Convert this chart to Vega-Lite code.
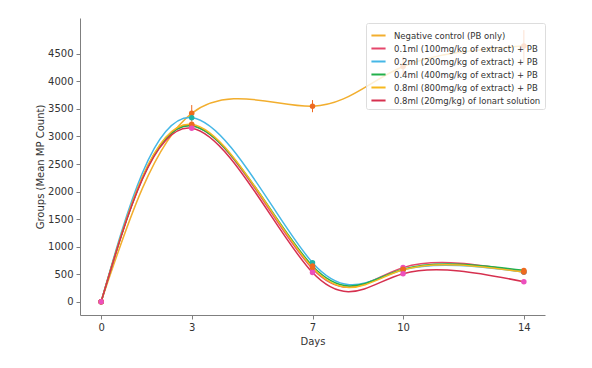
{
  "$schema": "https://vega.github.io/schema/vega-lite/v6.json",
  "width": 465,
  "height": 297,
  "autosize": "none",
  "padding": {"left": 80, "top": 18, "right": 47, "bottom": 53},
  "background": "white",
  "config": {
    "view": {"stroke": null},
    "font": "DejaVu Sans",
    "axis": {"grid": false, "domainColor": "#7f7f7f", "tickColor": "#7f7f7f", "labelColor": "#333333", "titleColor": "#333333", "labelFontSize": 10, "titleFontSize": 10, "titleFontWeight": "normal", "tickSize": 4, "labelPadding": 3, "format": "d"}
  },
  "data": {
    "values": [
      {"group": "Negative control (PB only)", "day": 0, "value": 0, "err": 0},
      {"group": "Negative control (PB only)", "day": 3, "value": 3420, "err": 150},
      {"group": "Negative control (PB only)", "day": 7, "value": 3550, "err": 110},
      {"group": "Negative control (PB only)", "day": 10, "value": 4270, "err": 180},
      {"group": "Negative control (PB only)", "day": 14, "value": 4640, "err": 290},
      {"group": "0.1ml (100mg/kg of extract) + PB", "day": 0, "value": 0, "err": 0},
      {"group": "0.1ml (100mg/kg of extract) + PB", "day": 3, "value": 3200, "err": 0},
      {"group": "0.1ml (100mg/kg of extract) + PB", "day": 7, "value": 600, "err": 0},
      {"group": "0.1ml (100mg/kg of extract) + PB", "day": 10, "value": 620, "err": 0},
      {"group": "0.1ml (100mg/kg of extract) + PB", "day": 14, "value": 540, "err": 0},
      {"group": "0.2ml (200mg/kg of extract) + PB", "day": 0, "value": 0, "err": 0},
      {"group": "0.2ml (200mg/kg of extract) + PB", "day": 3, "value": 3340, "err": 0},
      {"group": "0.2ml (200mg/kg of extract) + PB", "day": 7, "value": 710, "err": 0},
      {"group": "0.2ml (200mg/kg of extract) + PB", "day": 10, "value": 580, "err": 0},
      {"group": "0.2ml (200mg/kg of extract) + PB", "day": 14, "value": 540, "err": 0},
      {"group": "0.4ml (400mg/kg of extract) + PB", "day": 0, "value": 0, "err": 0},
      {"group": "0.4ml (400mg/kg of extract) + PB", "day": 3, "value": 3190, "err": 0},
      {"group": "0.4ml (400mg/kg of extract) + PB", "day": 7, "value": 650, "err": 0},
      {"group": "0.4ml (400mg/kg of extract) + PB", "day": 10, "value": 590, "err": 0},
      {"group": "0.4ml (400mg/kg of extract) + PB", "day": 14, "value": 570, "err": 0},
      {"group": "0.8ml (800mg/kg of extract) + PB", "day": 0, "value": 0, "err": 0},
      {"group": "0.8ml (800mg/kg of extract) + PB", "day": 3, "value": 3220, "err": 0},
      {"group": "0.8ml (800mg/kg of extract) + PB", "day": 7, "value": 620, "err": 0},
      {"group": "0.8ml (800mg/kg of extract) + PB", "day": 10, "value": 580, "err": 0},
      {"group": "0.8ml (800mg/kg of extract) + PB", "day": 14, "value": 540, "err": 0},
      {"group": "0.8ml (20mg/kg) of Ionart solution", "day": 0, "value": 0, "err": 0},
      {"group": "0.8ml (20mg/kg) of Ionart solution", "day": 3, "value": 3150, "err": 0},
      {"group": "0.8ml (20mg/kg) of Ionart solution", "day": 7, "value": 530, "err": 0},
      {"group": "0.8ml (20mg/kg) of Ionart solution", "day": 10, "value": 510, "err": 0},
      {"group": "0.8ml (20mg/kg) of Ionart solution", "day": 14, "value": 365, "err": 0}
    ]
  },
  "encoding": {
    "x": {"field": "day", "type": "quantitative", "scale": {"domain": [-0.7, 14.7], "nice": false, "zero": false}, "axis": {"values": [0, 3, 7, 10, 14], "title": "Days", "titlePadding": 4}},
    "y": {"field": "value", "type": "quantitative", "scale": {"domain": [-240, 5150], "nice": false, "zero": false}, "axis": {"values": [0, 500, 1000, 1500, 2000, 2500, 3000, 3500, 4000, 4500], "title": "Groups (Mean MP Count)", "titlePadding": 2}}
  },
  "layer": [
    {
      "mark": {"type": "line", "interpolate": "natural", "strokeWidth": 1.5},
      "encoding": {
        "color": {
          "field": "group", "type": "nominal",
          "scale": {
            "domain": ["Negative control (PB only)", "0.1ml (100mg/kg of extract) + PB", "0.2ml (200mg/kg of extract) + PB", "0.4ml (400mg/kg of extract) + PB", "0.8ml (800mg/kg of extract) + PB", "0.8ml (20mg/kg) of Ionart solution"],
            "range": ["#f2ae2e", "#e5466b", "#45b7e6", "#22b04b", "#f6b81f", "#d6304f"]
          },
          "legend": {"title": null, "orient": "none", "legendX": 286, "legendY": 5, "symbolType": "stroke", "symbolStrokeWidth": 2, "symbolSize": 200, "labelFontSize": 8.5, "labelColor": "#333333", "rowPadding": 0, "labelOffset": 7, "padding": 4, "strokeColor": "#dddddd", "fillColor": "rgba(255,255,255,0.8)", "cornerRadius": 2, "labelLimit": 300}
        }
      }
    },
    {
      "transform": [{"filter": "datum.err > 0"}],
      "mark": {"type": "errorbar", "color": "#ee6a1f", "thickness": 1},
      "encoding": {"yError": {"field": "err"}}
    },
    {
      "mark": {"type": "point", "filled": true, "size": 30, "opacity": 1},
      "encoding": {
        "color": {
          "field": "group", "type": "nominal",
          "scale": {
            "domain": ["Negative control (PB only)", "0.1ml (100mg/kg of extract) + PB", "0.2ml (200mg/kg of extract) + PB", "0.4ml (400mg/kg of extract) + PB", "0.8ml (800mg/kg of extract) + PB", "0.8ml (20mg/kg) of Ionart solution"],
            "range": ["#ee6a1f", "#ec4fbd", "#1fb3a5", "#ee6a1f", "#ee6a1f", "#ec4fbd"]
          },
          "legend": null
        }
      }
    }
  ],
  "resolve": {"scale": {"color": "independent"}}
}
